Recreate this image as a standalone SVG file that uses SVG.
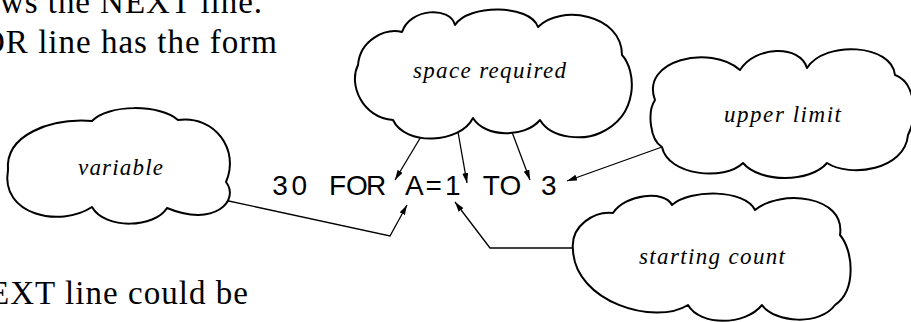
<svg xmlns="http://www.w3.org/2000/svg" width="911" height="322" viewBox="0 0 911 322">
<defs>
<style>
.body{font-family:"Liberation Serif","Times New Roman",serif;font-size:33px;fill:#000}
.lbl{font-family:"Liberation Serif","Times New Roman",serif;font-style:italic;font-size:23px;fill:#000}
.code{font-family:"Liberation Sans",Arial,sans-serif;font-size:28px;fill:#000}
.cloud{fill:#fff;stroke:#000;stroke-width:2;stroke-linejoin:round}
.conn{fill:none;stroke:#000;stroke-width:1.3}
</style>
<marker id="arr" markerWidth="10" markerHeight="6" refX="10" refY="3" orient="auto" markerUnits="userSpaceOnUse"><path d="M0,0 L10,3 L0,6 Z" fill="#000"/></marker>
</defs>
<rect width="911" height="322" fill="#fff"/>
<g id="body-text">
<text class="body" x="0" y="13" textLength="262" lengthAdjust="spacing">ws the NEXT line.</text>
<text class="body" x="-19" y="53" textLength="296" lengthAdjust="spacing">OR line has the form</text>
<text class="body" x="-11" y="304" textLength="259" lengthAdjust="spacing">EXT line could be</text>
</g>
<g id="code-line">
<text class="code" y="195" text-anchor="middle" x="280 299.2 318.4 337.6 356.8 376 395.2 414.4 433.6 452.8 472 491.2 510.4 529.6 548.8">30 FOR A=1 TO 3</text>
</g>
<g id="connectors">
<polyline class="conn" points="224,200 390,236 407,205" marker-end="url(#arr)"/>
<line class="conn" x1="422" y1="135" x2="395" y2="180" marker-end="url(#arr)"/>
<line class="conn" x1="458" y1="132" x2="467" y2="183" marker-end="url(#arr)"/>
<line class="conn" x1="512" y1="132" x2="530" y2="180" marker-end="url(#arr)"/>
<line class="conn" x1="662" y1="147" x2="567" y2="181" marker-end="url(#arr)"/>
<polyline class="conn" points="573,248 490,248 455,202" marker-end="url(#arr)"/>
</g>
<g id="node-variable">
<path class="cloud" d="M92 121 C108 104 160 104 178 120 C215 115 240 150 226 182 C240 200 215 228 167 208 C155 228 105 230 92 207 C60 228 0 215 8 170 C5 135 50 118 92 121 Z"/>
<text class="lbl" x="78" y="175" textLength="85" lengthAdjust="spacing">variable</text>
</g>
<g id="node-space-required">
<path class="cloud" d="M402 32 C410 8 450 6 455 25 C468 4 530 4 538 27 C560 4 622 14 622 55 C636 70 640 115 600 133 C585 140 552 140 540 120 C525 138 485 138 473 118 C460 144 405 146 393 120 C363 118 348 85 358 65 C360 40 385 28 402 32 Z"/>
<text class="lbl" x="413" y="78" textLength="153" lengthAdjust="spacing">space required</text>
</g>
<g id="node-upper-limit">
<path class="cloud" d="M740 70 C755 46 800 44 807 68 C825 40 892 44 895 75 C915 82 918 115 908 135 C905 170 850 178 827 163 C810 183 760 183 743 163 C725 181 668 176 662 147 C650 140 647 112 655 100 C640 60 710 44 740 70 Z"/>
<text class="lbl" x="724" y="122" textLength="117" lengthAdjust="spacing">upper limit</text>
</g>
<g id="node-starting-count">
<path class="cloud" d="M613 213 C625 194 665 190 672 205 C690 189 745 189 755 210 C780 189 846 195 840 235 C853 250 857 290 835 305 C820 326 775 323 762 305 C745 326 700 326 688 305 C655 326 575 302 573 250 C570 225 595 211 613 213 Z"/>
<text class="lbl" x="639" y="264" textLength="146" lengthAdjust="spacing">starting count</text>
</g>
</svg>
